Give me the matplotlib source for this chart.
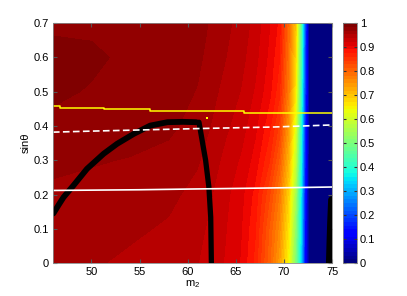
from __future__ import annotations

import matplotlib

matplotlib.use("Agg")
import matplotlib.pyplot as plt
import numpy as np


M2_GRID = [46, 50, 54, 58, 61, 62.5, 64, 65.5, 67, 68.5, 69.5, 70.5, 71.2, 71.8, 72.2, 72.6, 75]
SIN_GRID = [0.0, 0.1, 0.2, 0.3, 0.4, 0.5, 0.6, 0.7]
FIELD_ROWS = [
    [0.958, 0.955, 0.950, 0.945, 0.938, 0.930, 0.920, 0.905, 0.870, 0.800, 0.740, 0.640, 0.500, 0.330, 0.120, 0.01, 0.01],
    [0.962, 0.960, 0.956, 0.951, 0.943, 0.933, 0.922, 0.908, 0.877, 0.810, 0.760, 0.660, 0.520, 0.340, 0.130, 0.01, 0.01],
    [0.966, 0.964, 0.961, 0.957, 0.948, 0.938, 0.925, 0.912, 0.885, 0.830, 0.780, 0.680, 0.550, 0.350, 0.140, 0.01, 0.01],
    [0.972, 0.970, 0.968, 0.964, 0.955, 0.945, 0.932, 0.920, 0.900, 0.860, 0.810, 0.710, 0.590, 0.370, 0.150, 0.01, 0.01],
    [0.977, 0.976, 0.975, 0.972, 0.963, 0.952, 0.940, 0.930, 0.910, 0.880, 0.840, 0.740, 0.620, 0.390, 0.160, 0.01, 0.01],
    [0.990, 0.982, 0.977, 0.976, 0.968, 0.958, 0.947, 0.937, 0.920, 0.895, 0.865, 0.770, 0.660, 0.410, 0.180, 0.01, 0.01],
    [0.995, 0.990, 0.978, 0.977, 0.972, 0.963, 0.953, 0.943, 0.927, 0.902, 0.877, 0.780, 0.680, 0.430, 0.190, 0.01, 0.01],
    [0.978, 0.978, 0.978, 0.978, 0.974, 0.967, 0.957, 0.947, 0.932, 0.907, 0.887, 0.790, 0.700, 0.450, 0.200, 0.01, 0.01],
]

# black curves
ARCH_M2 = [46.05, 46.6, 47.1, 48.15, 49.54, 51.27, 52.67, 54.4, 56.1, 57.9, 59.5, 60.9]
ARCH_SIN = [0.145, 0.17, 0.192, 0.227, 0.275, 0.319, 0.348, 0.377, 0.401, 0.411, 0.412, 0.411]
DROP_M2 = [61.17, 61.5, 61.86, 62.2, 62.39, 62.46]
DROP_SIN = [0.411, 0.358, 0.30, 0.222, 0.134, 0.0]
EDGE_M2 = [74.72, 74.78, 74.85, 74.95]
EDGE_SIN = [0.0, 0.06, 0.12, 0.185]

# yellow stepped line (breakpoints, values)
YELLOW_M2 = [46.0, 46.76, 51.27, 56.1, 65.8, 75.0]
YELLOW_SIN = [0.457, 0.453, 0.449, 0.445, 0.439, 0.439]

# white lines
DASHED_M2 = [46, 50, 56, 62, 69, 75]
DASHED_SIN = [0.382, 0.385, 0.389, 0.393, 0.397, 0.403]
SOLID_M2 = [46, 55, 60, 68, 75]
SOLID_SIN = [0.212, 0.214, 0.216, 0.219, 0.222]

DOT_M2 = [62.04]
DOT_SIN = [0.424]

X_TICKS = [50, 55, 60, 65, 70, 75]
Y_TICKS = [0, 0.1, 0.2, 0.3, 0.4, 0.5, 0.6, 0.7]
Y_TICK_LABELS = ["0", "0.1", "0.2", "0.3", "0.4", "0.5", "0.6", "0.7"]
CB_TICKS = [0, 0.1, 0.2, 0.3, 0.4, 0.5, 0.6, 0.7, 0.8, 0.9, 1.0]
CB_TICK_LABELS = ["0", "0.1", "0.2", "0.3", "0.4", "0.5", "0.6", "0.7", "0.8", "0.9", "1"]


def main() -> None:
    plt.rcParams.update(
        {
            "font.family": ["Liberation Sans", "DejaVu Sans"],
            "font.size": 8,
            "mathtext.default": "regular",
        }
    )
    fig = plt.figure(figsize=(4.07, 2.96), dpi=100)
    ax = fig.add_axes([0.130, 0.111, 0.686, 0.811])
    cax = fig.add_axes([0.843, 0.111, 0.034, 0.811])

    cmap = plt.get_cmap("jet", 64)
    field = np.array(FIELD_ROWS)
    mesh = ax.contourf(M2_GRID, SIN_GRID, field, levels=np.linspace(0, 1, 65), cmap=cmap, vmin=0, vmax=1)

    ax.plot(ARCH_M2, ARCH_SIN, color="black", lw=4.2, solid_capstyle="round", solid_joinstyle="round")
    ax.plot(DROP_M2, DROP_SIN, color="black", lw=3.8, solid_capstyle="round", solid_joinstyle="round")
    ax.plot(EDGE_M2, EDGE_SIN, color="black", lw=5.0, solid_capstyle="round")

    ax.step(YELLOW_M2, YELLOW_SIN, where="post", color="#ffff00", lw=1.1)
    ax.plot(DASHED_M2, DASHED_SIN, color="white", lw=1.2, dashes=(4, 2))
    ax.plot(SOLID_M2, SOLID_SIN, color="white", lw=1.2)
    ax.plot(DOT_M2, DOT_SIN, "s", color="#ffff00", ms=1.8, mew=0)

    ax.set_xlim(46, 75)
    ax.set_ylim(0, 0.7)
    ax.set_xticks(X_TICKS)
    ax.set_yticks(Y_TICKS, Y_TICK_LABELS)
    ax.tick_params(direction="in", length=3, top=True, right=True, color="#555555", pad=3)
    for spine in ax.spines.values():
        spine.set_color("#888888")
        spine.set_linewidth(0.6)
    ax.set_xlabel("m$_2$", labelpad=1)
    ax.set_ylabel("sinθ", labelpad=2)

    cb = fig.colorbar(mesh, cax=cax)
    cb.set_ticks(CB_TICKS, labels=CB_TICK_LABELS)
    cb.ax.tick_params(direction="in", length=2.5, left=True, right=True, color="#333333", pad=2)
    cb.outline.set_edgecolor("#888888")
    cb.outline.set_linewidth(0.6)

    fig.savefig("out.png", dpi=100)
    plt.close(fig)


if __name__ == "__main__":
    main()
